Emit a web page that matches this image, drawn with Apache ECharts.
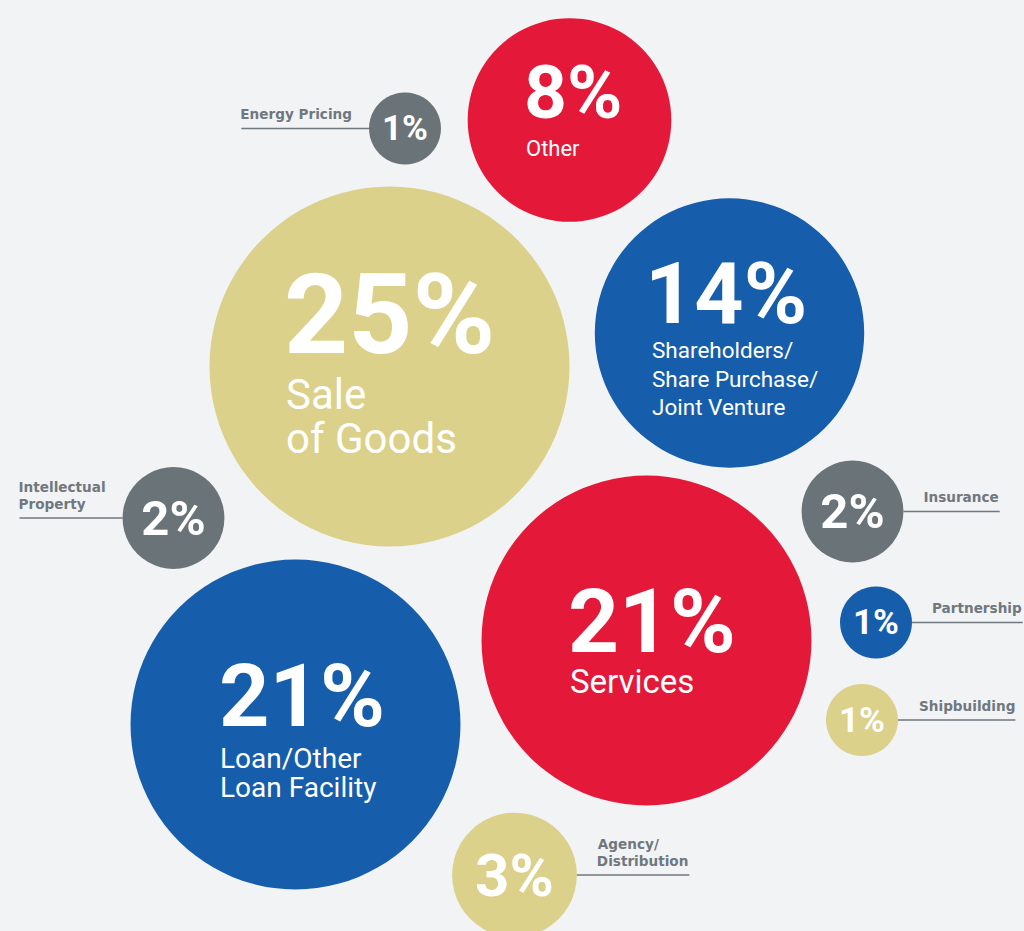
<!DOCTYPE html>
<html>
<head>
<meta charset="utf-8">
<title>Share of disputes by sector</title>
<script src="https://cdn.jsdelivr.net/npm/echarts@6/dist/echarts.min.js"></script>
<style>
html, body { margin: 0; padding: 0; background: #f2f3f5; }
#main { width: 1024px; height: 931px; }
</style>
</head>
<body>
<div id="main"></div>
<script>
// data
var categories = ['Energy Pricing', 'Other', 'Sale\nof Goods', 'Shareholders/\nShare Purchase/\nJoint Venture',
    'Intellectual\nProperty', 'Insurance', 'Services', 'Partnership', 'Shipbuilding',
    'Loan/Other\nLoan Facility', 'Agency/\nDistribution'];
var values = [1, 8, 25, 14, 2, 2, 21, 1, 1, 21, 3];
// where each bubble sits on the (hidden) layout axes
var posX = [405, 569.5, 389.5, 729.5, 173.5, 852.5, 646.5, 876, 862, 295.5, 514.5];
var posY = [128.5, 120, 366.5, 333, 518, 511.5, 640.5, 622.5, 720, 724.5, 875];

// styles
var palette = { red: '#e4193a', blue: '#165dab', gold: '#dbd18a', grey: '#6a7378' };
var bubbleColor = ['grey', 'red', 'gold', 'blue', 'grey', 'grey', 'red', 'blue', 'gold', 'blue', 'gold'];
var UNIT = 36;          // radius of a 1% bubble
var CALLOUT = '#6f787e';
var CALLOUT_SIZE = 13.6;
// big bubbles: label inside, small ones: callout on a side
var labelLayout = [
    { side: 'left' },
    { dx: -42.5, num: 75, numBase: -2, sub: 22, subBase: 36, lh: 28 },
    { dx: -102.5, num: 112, numBase: -13.5, sub: 42, subBase: 42.5, lh: 44 },
    { dx: -77.5, num: 86, numBase: -10, sub: 22.5, subBase: 25, lh: 28.5 },
    { side: 'left' },
    { side: 'right' },
    { dx: -75.5, num: 89, numBase: 11.5, sub: 33, subBase: 52.5, lh: 30 },
    { side: 'right' },
    { side: 'right' },
    { dx: -73.5, num: 88, numBase: 1.5, sub: 28, subBase: 43.5, lh: 29 },
    { side: 'right' }
];

var ctx = document.createElement('canvas').getContext('2d');
function measure(text, font) {
    ctx.font = font;
    return ctx.measureText(text);
}

// text placed by ink left edge and alphabetic baseline
function inkText(text, inkLeft, base, weight, size, family, color) {
    var font = weight + ' ' + size + 'px ' + family;
    var m = measure(text, font);
    return {
        type: 'text',
        style: {
            text: text,
            x: inkLeft + m.actualBoundingBoxLeft,
            y: base - 0.345 * size,
            font: font,
            fill: color,
            align: 'left',
            verticalAlign: 'middle'
        }
    };
}

function renderItem(params, api) {
    var i = params.dataIndex;
    var c = api.coord([api.value(0), api.value(1)]);
    var r = api.size([Math.sqrt(api.value(2)) * UNIT, 0])[0];
    var lay = labelLayout[i];
    var pct = api.value(2) + '%';
    var lines = categories[i].split('\n');
    var kids = [{
        type: 'circle',
        shape: { cx: c[0], cy: c[1], r: r },
        style: { fill: palette[bubbleColor[i]] }
    }];
    if (!lay.side) {
        var x0 = c[0] + lay.dx;
        kids.push(inkText(pct, x0, c[1] + lay.numBase, 'bold', lay.num, 'Roboto', '#fff'));
        lines.forEach(function (l, k) {
            kids.push(inkText(l, x0, c[1] + lay.subBase + k * lay.lh, 'normal', lay.sub, 'Roboto', '#fff'));
        });
    } else {
        var fs = Math.round(r * 0.96);
        kids.push({
            type: 'text',
            style: {
                text: pct, x: c[0], y: c[1],
                font: 'bold ' + fs + 'px Roboto',
                fill: '#fff', align: 'center', verticalAlign: 'middle'
            }
        });
        var font = 'bold ' + CALLOUT_SIZE + 'px "DejaVu Sans"';
        var w = 0;
        lines.forEach(function (l) { w = Math.max(w, measure(l, font).width); });
        var x1, x2, tx;
        if (lay.side === 'left') {
            x2 = c[0] - r;
            x1 = x2 - 16 - w;
            tx = x1;
        } else {
            x1 = c[0] + r;
            x2 = x1 + 21 + w;
            tx = x2 - w;
        }
        kids.push({
            type: 'line',
            shape: { x1: x1, y1: c[1], x2: x2, y2: c[1] },
            style: { stroke: CALLOUT, lineWidth: 1.5 }
        });
        var n = lines.length;
        lines.forEach(function (l, k) {
            kids.push(inkText(l, tx, c[1] - 9.5 - (n - 1 - k) * 16.5, 'bold', CALLOUT_SIZE, '"DejaVu Sans"', CALLOUT));
        });
    }
    return { type: 'group', children: kids };
}

var chart = echarts.init(document.getElementById('main'), null, { renderer: 'svg' });
var seriesData = [];
for (var i = 0; i < values.length; i++) {
    seriesData.push([posX[i], posY[i], values[i], categories[i]]);
}
var option = {
    backgroundColor: '#f2f3f5',
    animation: false,
    grid: { left: 0, right: 0, top: 0, bottom: 0 },
    xAxis: { type: 'value', min: 0, max: 1024, show: false },
    yAxis: { type: 'value', min: 0, max: 931, inverse: true, show: false },
    series: [{
        type: 'custom',
        renderItem: renderItem,
        data: seriesData
    }]
};
chart.setOption(option);
</script>
</body>
</html>
